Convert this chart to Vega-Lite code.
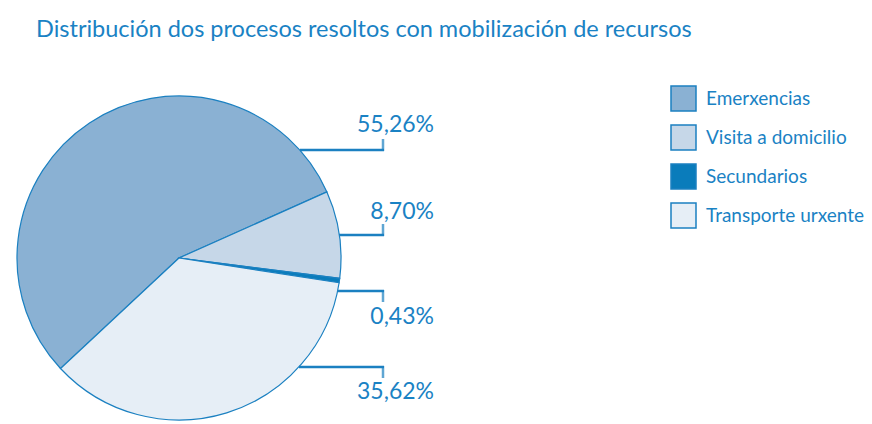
{
  "$schema": "https://vega.github.io/schema/vega-lite/v6.json",
  "width": 872,
  "height": 364,
  "autosize": {"type": "none"},
  "padding": {"left": 0, "top": 60, "right": 0, "bottom": 0},
  "background": "white",
  "config": {"view": {"stroke": null}, "font": "Lato"},
  "title": {
    "text": "Distribución dos procesos resoltos con mobilización de recursos",
    "anchor": "start",
    "frame": "group",
    "dx": 36,
    "offset": 0,
    "baseline": "alphabetic",
    "font": "Lato",
    "fontSize": 23.5,
    "fontWeight": "normal",
    "color": "#1a82c4"
  },
  "data": {
    "values": [
      {"orden": 1, "categoria": "Emerxencias", "valor": 55.26, "etiqueta": "55,26%"},
      {"orden": 2, "categoria": "Visita a domicilio", "valor": 8.70, "etiqueta": "8,70%"},
      {"orden": 3, "categoria": "Secundarios", "valor": 0.43, "etiqueta": "0,43%"},
      {"orden": 4, "categoria": "Transporte urxente", "valor": 35.62, "etiqueta": "35,62%"}
    ]
  },
  "layer": [
    {
      "mark": {"type": "arc", "radius": 162, "stroke": "#1b80c1", "strokeWidth": 1.2},
      "encoding": {
        "x": {"value": 179},
        "y": {"value": 198},
        "theta": {"field": "valor", "type": "quantitative", "stack": true, "scale": {"range": [3.962, 10.245]}},
        "order": {"field": "orden", "type": "quantitative"},
        "color": {
          "field": "categoria",
          "type": "nominal",
          "sort": null,
          "scale": {
            "domain": ["Emerxencias", "Visita a domicilio", "Secundarios", "Transporte urxente"],
            "range": ["#8ab1d3", "#c6d7e8", "#0a7cbb", "#e6eef6"]
          },
          "legend": {
            "title": null,
            "orient": "none",
            "legendX": 670,
            "legendY": 25,
            "padding": 0,
            "symbolType": "square",
            "symbolSize": 625,
            "symbolStrokeColor": "#1b80c1",
            "symbolStrokeWidth": 1.5,
            "symbolOpacity": 1,
            "labelFont": "Lato",
            "labelFontSize": 19,
            "labelColor": "#1a82c4",
            "labelOffset": 9,
            "rowPadding": 8,
            "labelLimit": 300
          }
        }
      }
    },
    {
      "mark": {"type": "rule", "stroke": "#1b80c1", "strokeWidth": 2.5},
      "encoding": {
        "x": {"field": "orden", "type": "quantitative", "axis": null,
              "scale": {"domain": [1, 2, 3, 4], "range": [300, 339, 338, 299], "nice": false, "zero": false}},
        "x2": {"value": 384},
        "y": {"field": "orden", "type": "quantitative", "axis": null,
              "scale": {"domain": [1, 2, 3, 4], "range": [90, 175, 231, 307], "nice": false, "zero": false}}
      }
    },
    {
      "mark": {"type": "tick", "orient": "vertical", "color": "#1b80c1", "thickness": 2.5, "size": 12},
      "encoding": {
        "x": {"value": 383},
        "y": {"field": "orden", "type": "quantitative", "axis": null,
              "scale": {"domain": [1, 2, 3, 4], "range": [85, 170, 236, 312], "nice": false, "zero": false}}
      }
    },
    {
      "mark": {"type": "text", "align": "right", "baseline": "alphabetic", "font": "Lato", "fontSize": 23, "color": "#1a82c4"},
      "encoding": {
        "x": {"value": 434},
        "y": {"field": "orden", "type": "quantitative", "axis": null,
              "scale": {"domain": [1, 2, 3, 4], "range": [72, 159, 264, 339], "nice": false, "zero": false}},
        "text": {"field": "etiqueta", "type": "nominal"}
      }
    }
  ],
  "resolve": {"scale": {"x": "independent", "y": "independent"}}
}
